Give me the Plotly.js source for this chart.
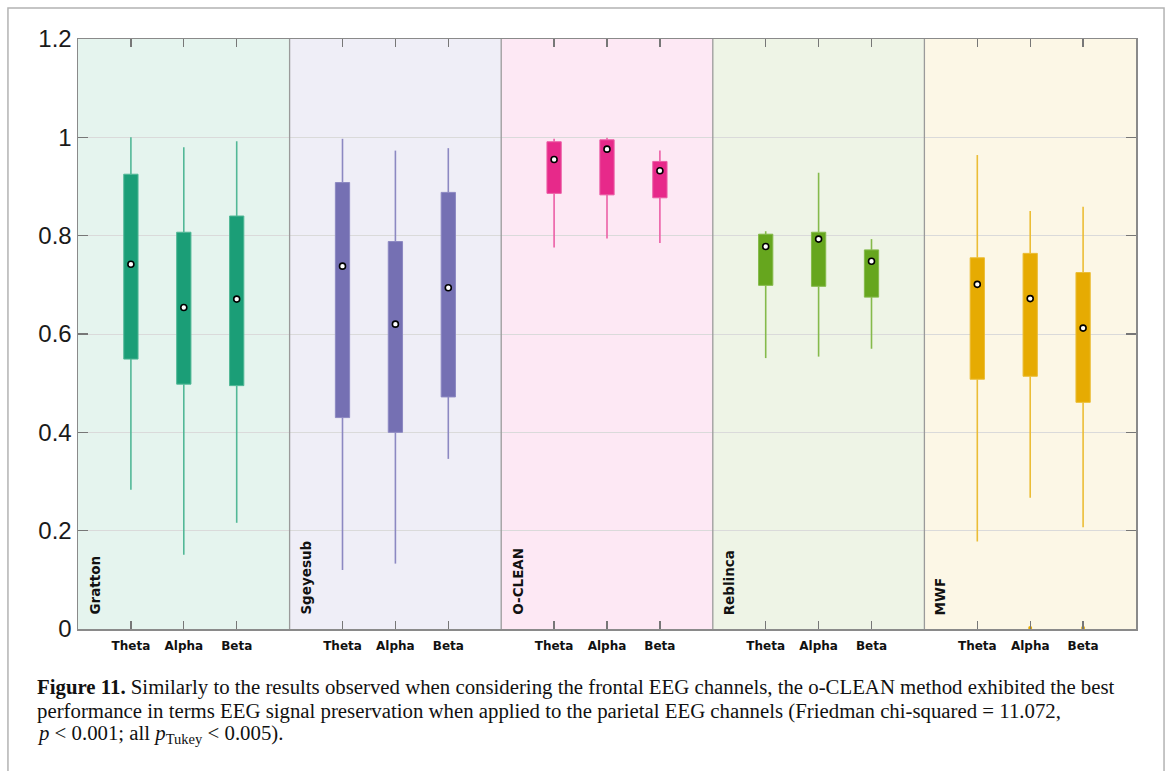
<!DOCTYPE html>
<html><head><meta charset="utf-8">
<script src="https://cdn.plot.ly/plotly-3.0.1.min.js"></script>
<style>html,body{margin:0;padding:0;background:#fff}#chart{width:1168px;height:771px}</style>
</head><body><div id="chart"></div>
<script>
// ---- data ----
const methods = ['Gratton', 'Sgeyesub', 'O-CLEAN', 'Reblinca', 'MWF'];
const bands = ['Theta', 'Alpha', 'Beta'];
// order: method by method, Theta/Alpha/Beta inside each
const whiskerHigh = [1.000, 0.980, 0.992,  0.997, 0.973, 0.978,  0.997, 0.999, 0.973,  0.809, 0.928, 0.793,  0.964, 0.850, 0.859];
const q3          = [0.925, 0.807, 0.840,  0.908, 0.788, 0.888,  0.991, 0.995, 0.951,  0.803, 0.807, 0.771,  0.755, 0.764, 0.725];
const median      = [0.742, 0.654, 0.671,  0.738, 0.620, 0.694,  0.955, 0.976, 0.932,  0.778, 0.793, 0.748,  0.701, 0.672, 0.612];
const q1          = [0.549, 0.498, 0.495,  0.430, 0.400, 0.472,  0.886, 0.883, 0.877,  0.699, 0.697, 0.675,  0.508, 0.514, 0.461];
const whiskerLow  = [0.283, 0.151, 0.216,  0.120, 0.133, 0.346,  0.776, 0.794, 0.785,  0.551, 0.554, 0.570,  0.178, 0.267, 0.207];
// outliers (MWF Alpha, MWF Beta near zero)
const outlierMethod = ['MWF', 'MWF'];
const outlierBand = ['Alpha', 'Beta'];
const outlierValue = [0.002, 0.002];
const yTickVals = [0, 0.2, 0.4, 0.6, 0.8, 1.0, 1.2];
const yTickText = ['0', '0.2', '0.4', '0.6', '0.8', '1', '1.2'];

// ---- styling ----
const boxColors = ['#1b9e77', '#7570b3', '#e7298a', '#66a61e', '#e6ab02'];
const whiskColors = ['#52b897', '#8c88c2', '#eb5fa6', '#85ba4b', '#ebbd36'];
const panelBg = ['#e5f4ee', '#efeef7', '#fde8f4', '#eef4e6', '#fcf7e6'];

const pos = (m, b) => 4 * m + b + 1;
const traces = [];
methods.forEach((name, m) => {
  const xs = [], base = [], h = [], med = [], wx = [], wy = [];
  bands.forEach((band, b) => {
    const k = m * 3 + b;
    const x = pos(m, b);
    xs.push(x); base.push(q1[k]); h.push(q3[k] - q1[k]); med.push(median[k]);
    wx.push(x, x, null, x, x, null);
    wy.push(q3[k], whiskerHigh[k], null, whiskerLow[k], q1[k], null);
  });
  traces.push({type: 'scatter', mode: 'lines', x: wx, y: wy, line: {color: whiskColors[m], width: 1.6},
               hoverinfo: 'skip', showlegend: false});
  traces.push({type: 'bar', x: xs, base: base, y: h, width: 0.27,
               marker: {color: boxColors[m], line: {color: whiskColors[m], width: 1}},
               showlegend: false, name: name});
  traces.push({type: 'scatter', mode: 'markers', x: xs, y: med,
               marker: {size: 6, color: '#ffffff', line: {color: '#000000', width: 1.6}},
               showlegend: false, name: name + ' median'});
});
// outliers
traces.push({type: 'scatter', mode: 'markers',
  x: outlierMethod.map((mm, i) => pos(methods.indexOf(mm), bands.indexOf(outlierBand[i]))),
  y: outlierValue, cliponaxis: false,
  marker: {size: 4, color: outlierMethod.map(mm => boxColors[methods.indexOf(mm)])},
  showlegend: false});

const tickvals = [], ticktext = [];
methods.forEach((_, m) => bands.forEach((b, j) => { tickvals.push(pos(m, j)); ticktext.push(b); }));

const shapes = [];
methods.forEach((_, m) => {
  shapes.push({type: 'rect', xref: 'x', yref: 'y', x0: 4 * m, x1: 4 * m + 4, y0: 0, y1: 1.2,
               fillcolor: panelBg[m], line: {width: 0}, layer: 'below'});
  if (m > 0) shapes.push({type: 'line', xref: 'x', yref: 'y', x0: 4 * m, x1: 4 * m, y0: 0, y1: 1.2,
               line: {color: '#9a9a9a', width: 1.3}, layer: 'above'});
});
// outer figure frame
shapes.push({type: 'rect', xref: 'paper', yref: 'paper', x0: -0.0662, x1: 1.0265, y0: -0.4, y1: 1.0525,
             line: {color: '#b3b3b3', width: 1.5}, fillcolor: 'rgba(0,0,0,0)', layer: 'below'});

const labelFont = {family: 'DejaVu Sans, sans-serif', size: 13.5, weight: 'bold', color: '#111'};
const annotations = methods.map((name, m) => ({
  xref: 'x', yref: 'y', x: 4 * m, y: 0, xshift: 16, yshift: 12,
  xanchor: 'center', yanchor: 'bottom', textangle: -90, showarrow: false, text: name,
  font: labelFont
}));
const capFont = {family: 'Liberation Serif, Times New Roman, serif', size: 20.8, color: '#111'};
const capLines = [
  '<b>Figure 11.</b> Similarly to the results observed when considering the frontal EEG channels, the o-CLEAN method exhibited the best',
  'performance in terms EEG signal preservation when applied to the parietal EEG channels (Friedman chi-squared = 11.072,',
  '<i>p</i> &lt; 0.001; all <i>p</i><sub>Tukey</sub> &lt; 0.005).'
];
const capY = [687, 710.5, 734];
capLines.forEach((t, i) => annotations.push({
  xref: 'paper', yref: 'paper', x: (35 - 78) / 1058, y: (629 - capY[i]) / 590,
  xanchor: 'left', yanchor: 'middle', showarrow: false, align: 'left', text: t, font: capFont
}));

const layout = {
  width: 1168, height: 771,
  margin: {l: 78, r: 32, t: 39, b: 142},
  paper_bgcolor: '#ffffff', plot_bgcolor: '#ffffff',
  barmode: 'overlay', showlegend: false,
  xaxis: {range: [0, 20], tickmode: 'array', tickvals: tickvals, ticktext: ticktext,
          ticks: 'inside', ticklen: 8, tickwidth: 1.2, tickcolor: '#777',
          showline: true, linecolor: '#8a8a8a', linewidth: 1.5, mirror: 'ticks',
          showgrid: false, zeroline: false, ticklabelstandoff: 5,
          tickfont: {family: 'DejaVu Sans, sans-serif', size: 12, weight: 'bold', color: '#111'}},
  yaxis: {range: [0, 1.2], tickmode: 'array', tickvals: yTickVals, ticktext: yTickText,
          ticks: 'inside', ticklen: 10, tickwidth: 1.2, tickcolor: '#777',
          showline: true, linecolor: '#8a8a8a', linewidth: 1.5, mirror: 'ticks',
          showgrid: true, gridcolor: '#dadada', gridwidth: 1, zeroline: false,
          tickfont: {family: 'Liberation Sans, Arial, sans-serif', size: 24, color: '#1a1a1a'}},
  shapes: shapes,
  annotations: annotations
};
Plotly.newPlot('chart', traces, layout, {displayModeBar: false, staticPlot: true});
</script>
</body></html>
